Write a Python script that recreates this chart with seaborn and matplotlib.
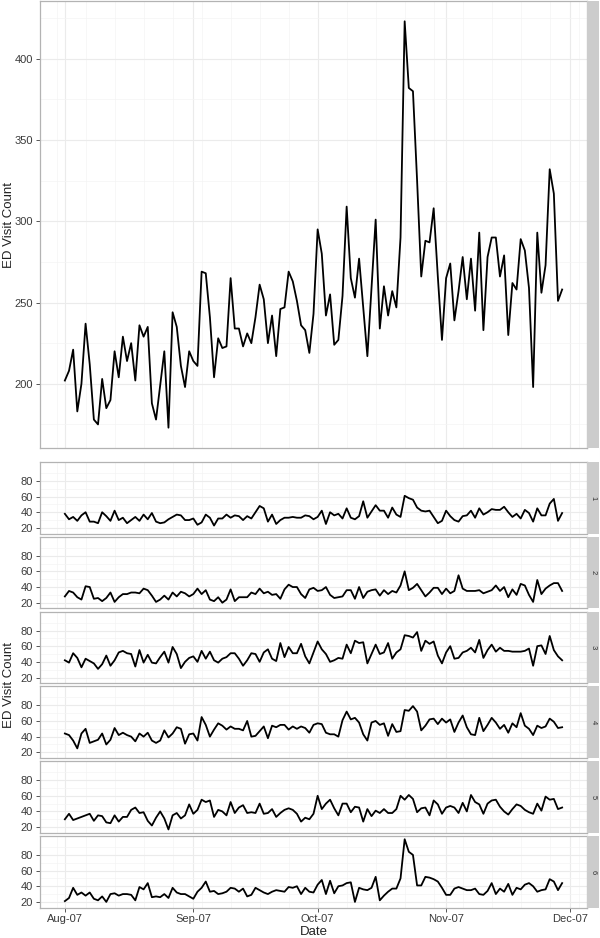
import numpy as np
import pandas as pd
import matplotlib
matplotlib.use("Agg")
import matplotlib.pyplot as plt
import matplotlib.dates as mdates
import seaborn as sns

# daily ED visit counts, 1 Aug 2007 - 29 Nov 2007
dates = pd.date_range("2007-08-01", "2007-11-29", freq="D")

total = [202, 208, 221, 183, 200, 237, 212, 178, 175, 203, 185, 190, 220, 204, 229, 214, 225, 202, 236, 229,
         235, 188, 178, 199, 220, 173, 244, 235, 211, 198, 220, 214, 211, 269, 268, 241, 204, 228, 222, 223,
         265, 234, 234, 223, 231, 225, 241, 261, 252, 225, 242, 217, 246, 247, 269, 263, 251, 236, 233, 219,
         243, 295, 280, 242, 255, 224, 227, 254, 309, 265, 253, 277, 247, 217, 259, 301, 234, 260, 242, 257,
         247, 290, 423, 382, 380, 325, 266, 288, 287, 308, 266, 227, 265, 274, 239, 257, 278, 252, 277, 245,
         293, 233, 278, 290, 290, 266, 279, 230, 262, 258, 289, 282, 259, 198, 293, 256, 273, 332, 317, 251,
         258]

zone1 = [38, 31, 34, 29, 36, 40, 28, 28, 26, 40, 35, 29, 42, 30, 33, 26, 30, 34, 29, 37,
         31, 39, 28, 26, 27, 31, 34, 37, 36, 30, 30, 32, 24, 27, 37, 33, 23, 32, 32, 37,
         33, 36, 35, 30, 35, 32, 40, 48, 45, 28, 37, 25, 30, 33, 33, 34, 33, 33, 36, 35,
         31, 34, 42, 25, 40, 36, 38, 32, 45, 33, 31, 35, 54, 33, 41, 49, 42, 42, 33, 46,
         37, 34, 61, 58, 56, 46, 42, 41, 42, 34, 26, 29, 42, 35, 30, 28, 35, 36, 42, 33,
         45, 37, 40, 44, 43, 43, 47, 40, 34, 38, 32, 43, 39, 28, 45, 36, 36, 51, 57, 29,
         39]

zone2 = [28, 35, 33, 27, 24, 41, 40, 25, 26, 22, 26, 33, 21, 27, 31, 31, 33, 33, 32, 38,
         36, 29, 21, 24, 29, 24, 33, 28, 34, 32, 28, 31, 38, 31, 36, 24, 22, 27, 20, 24,
         37, 22, 27, 27, 27, 33, 31, 38, 32, 34, 30, 31, 25, 37, 43, 40, 40, 31, 26, 37,
         39, 35, 36, 40, 30, 26, 27, 28, 36, 36, 25, 40, 26, 34, 36, 37, 29, 36, 31, 35,
         33, 42, 60, 36, 39, 44, 36, 28, 33, 39, 39, 31, 38, 32, 35, 55, 38, 35, 35, 35,
         36, 32, 34, 36, 42, 35, 40, 27, 37, 30, 44, 42, 30, 21, 49, 31, 38, 42, 45, 45,
         35]

zone3 = [42, 39, 51, 45, 33, 44, 41, 38, 31, 37, 48, 35, 42, 52, 54, 51, 50, 34, 55, 39,
         49, 39, 38, 46, 53, 39, 59, 50, 32, 40, 45, 47, 40, 54, 44, 53, 42, 39, 44, 46,
         51, 51, 44, 35, 42, 51, 50, 40, 52, 56, 44, 41, 64, 46, 59, 51, 51, 63, 47, 38,
         52, 66, 56, 50, 40, 42, 45, 44, 62, 51, 67, 64, 65, 38, 50, 62, 50, 52, 64, 44,
         52, 56, 74, 73, 71, 78, 54, 67, 63, 66, 48, 38, 52, 60, 44, 45, 52, 54, 58, 52,
         68, 45, 55, 62, 53, 58, 54, 54, 53, 53, 53, 54, 57, 35, 60, 61, 50, 73, 55, 47,
         42]

zone4 = [44, 42, 35, 25, 44, 50, 32, 34, 36, 44, 30, 36, 51, 42, 45, 42, 40, 34, 44, 40,
         45, 35, 32, 35, 48, 39, 44, 52, 50, 31, 43, 44, 35, 65, 55, 40, 49, 57, 54, 49,
         53, 50, 50, 48, 60, 40, 41, 47, 53, 38, 54, 52, 55, 55, 49, 53, 50, 53, 51, 45,
         55, 57, 56, 45, 43, 43, 40, 61, 72, 62, 64, 58, 43, 35, 58, 60, 55, 57, 41, 56,
         46, 47, 74, 73, 79, 72, 48, 54, 62, 63, 56, 63, 58, 62, 46, 58, 67, 52, 43, 42,
         64, 47, 55, 64, 58, 50, 55, 45, 57, 52, 70, 54, 50, 42, 54, 51, 53, 63, 59, 51,
         52]

zone5 = [30, 37, 29, 31, 33, 35, 37, 28, 35, 34, 26, 25, 35, 27, 33, 33, 42, 45, 38, 39,
         28, 22, 32, 40, 31, 17, 35, 38, 31, 35, 49, 37, 42, 55, 52, 54, 33, 42, 40, 35,
         52, 38, 45, 48, 38, 39, 38, 50, 37, 38, 43, 33, 38, 42, 44, 42, 37, 27, 32, 30,
         37, 60, 43, 50, 55, 44, 35, 50, 50, 39, 46, 45, 27, 43, 34, 41, 38, 43, 38, 38,
         43, 60, 55, 61, 56, 39, 44, 45, 35, 54, 49, 37, 45, 47, 45, 38, 51, 40, 61, 52,
         49, 37, 50, 54, 55, 46, 40, 36, 43, 49, 47, 42, 39, 37, 50, 41, 59, 55, 56, 43,
         45]

zone6 = [21, 25, 38, 29, 32, 28, 32, 24, 22, 27, 20, 30, 31, 28, 30, 30, 29, 22, 39, 36,
         44, 26, 27, 26, 30, 25, 38, 32, 30, 30, 27, 24, 33, 38, 46, 33, 34, 30, 31, 33,
         38, 37, 33, 37, 27, 29, 38, 35, 32, 30, 33, 35, 34, 33, 39, 38, 40, 30, 38, 33,
         32, 42, 48, 30, 47, 31, 40, 41, 44, 45, 20, 38, 36, 35, 38, 52, 22, 28, 33, 37,
         37, 50, 100, 84, 80, 41, 41, 52, 51, 49, 46, 38, 29, 29, 37, 39, 37, 35, 35, 37,
         30, 29, 34, 44, 30, 37, 33, 43, 29, 38, 36, 42, 44, 40, 33, 35, 36, 49, 46, 35,
         44]

zone_labels = ["1", "2", "3", "4", "5", "6"]
zones = [zone1, zone2, zone3, zone4, zone5, zone6]

GRID = "#EBEBEB"
BORDER = "#B3B3B3"
STRIP = "#CCCCCC"
TEXT = "#3A3A3A"

W, H = 600, 938
fig = plt.figure(figsize=(W / 100, H / 100), dpi=100)
plt.rcParams["font.family"] = ["Liberation Sans", "DejaVu Sans"]


def frac(x0, y0, x1, y1):
    return [x0 / W, 1 - y1 / H, (x1 - x0) / W, (y1 - y0) / H]


def expand(lo, hi):
    pad = (hi - lo) * 0.05
    return lo - pad, hi + pad


xlo = dates[0] - pd.Timedelta(days=6)
xhi = dates[-1] + pd.Timedelta(days=6)


def style_axes(ax, major_y, minor_y, ylim, show_x):
    ax.set_facecolor("white")
    ax.set_xlim(xlo, xhi)
    ax.set_ylim(*ylim)
    ax.xaxis.set_major_locator(mdates.MonthLocator())
    ax.xaxis.set_minor_locator(mdates.WeekdayLocator(byweekday=mdates.MO))
    ax.xaxis.set_major_formatter(mdates.DateFormatter("%b-%y"))
    ax.set_yticks(major_y)
    ax.set_yticks(minor_y, minor=True)
    ax.grid(True, which="major", color=GRID, linewidth=0.8, zorder=0)
    ax.grid(True, which="minor", color="#F4F4F4", linewidth=0.5, zorder=0)
    ax.set_axisbelow(True)
    for s in ax.spines.values():
        s.set_color(BORDER)
        s.set_linewidth(0.9)
    ax.tick_params(axis="both", which="major", length=3, color=TEXT, width=0.6,
                   labelsize=8, labelcolor=TEXT, pad=2)
    ax.tick_params(axis="both", which="minor", length=0)
    if not show_x:
        ax.tick_params(axis="x", which="major", length=0, labelbottom=False)
    ax.set_xlabel("")
    ax.set_ylabel("")


def add_strip(y0, y1, label):
    sax = fig.add_axes(frac(587, y0, 599, y1))
    sax.set_facecolor(STRIP)
    sax.set_xticks([])
    sax.set_yticks([])
    for s in sax.spines.values():
        s.set_visible(False)
    if label:
        sax.text(0.5, 0.5, label, rotation=-90, ha="center", va="center",
                 fontsize=5.5, color="#333333", transform=sax.transAxes)


# top panel: total counts
top_df = pd.DataFrame({"date": dates, "count": total})
ax_top = fig.add_axes(frac(40, 1, 587, 448))
sns.lineplot(data=top_df, x="date", y="count", ax=ax_top, color="black", linewidth=1.3)
style_axes(ax_top, [200, 250, 300, 350, 400], [175, 225, 275, 325, 375, 425],
           expand(min(total), max(total)), False)
add_strip(1, 448, "")

# zone panels
long_df = pd.DataFrame({
    "date": np.tile(dates, len(zones)),
    "count": np.concatenate(zones),
    "zone": np.repeat(zone_labels, len(dates)),
})
small_lim = expand(long_df["count"].min(), long_df["count"].max())

for k, lab in enumerate(zone_labels):
    y0 = 462 + k * 74.8
    y1 = y0 + 71.5
    ax = fig.add_axes(frac(40, y0, 587, y1))
    sub = long_df[long_df["zone"] == lab]
    sns.lineplot(data=sub, x="date", y="count", ax=ax, color="black", linewidth=1.3)
    style_axes(ax, [20, 40, 60, 80], [30, 50, 70, 90], small_lim, k == len(zone_labels) - 1)
    add_strip(y0, y1, lab)

fig.text(40 / W + 547 / W / 2, 1 - 932 / H, "Date", ha="center", va="center", fontsize=9.5, color="#222222")
fig.text(9 / W, 1 - 225 / H, "ED Visit Count", rotation=90, ha="center", va="center", fontsize=9.5, color="#222222")
fig.text(9 / W, 1 - 685 / H, "ED Visit Count", rotation=90, ha="center", va="center", fontsize=9.5, color="#222222")

fig.savefig("out.png", dpi=100)
